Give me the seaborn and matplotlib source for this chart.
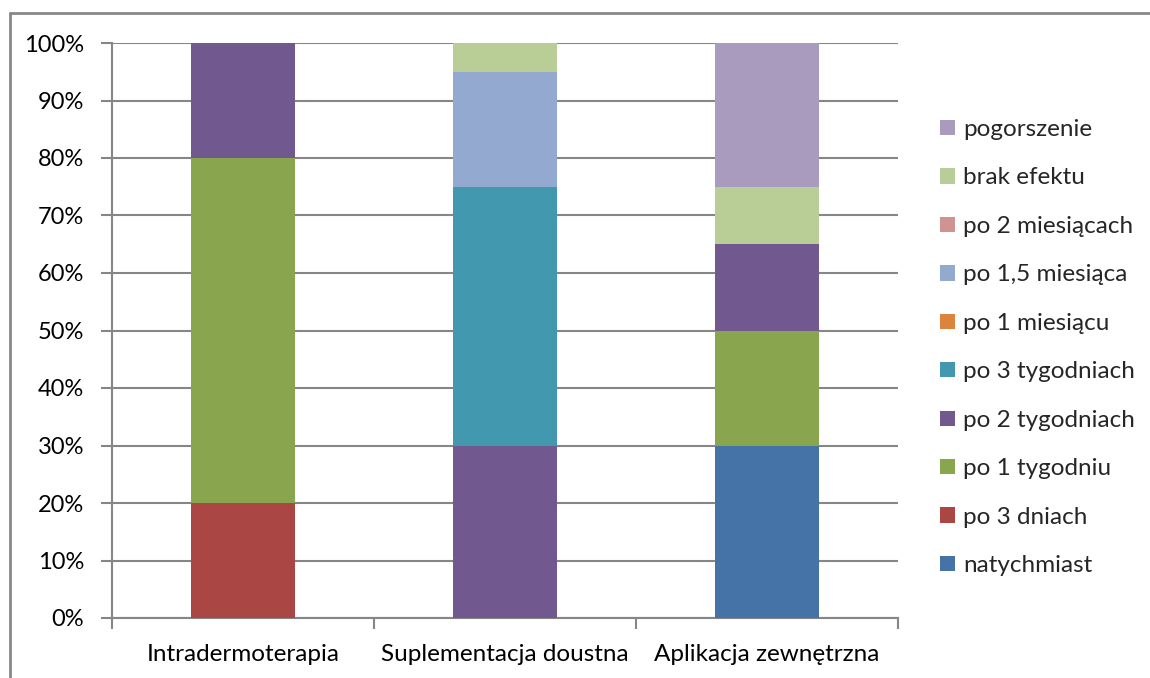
import numpy as np
import pandas as pd
import matplotlib
matplotlib.use("Agg")
import matplotlib.pyplot as plt
from matplotlib.lines import Line2D
from matplotlib.patches import Patch
from matplotlib.ticker import FixedLocator, PercentFormatter
import seaborn as sns

# Treatment methods (x categories)
methods = ["Intradermoterapia", "Suplementacja doustna", "Aplikacja zewnętrzna"]

# Response categories, bottom of the stack first
responses = ["natychmiast", "po 3 dniach", "po 1 tygodniu", "po 2 tygodniach",
             "po 3 tygodniach", "po 1 miesiącu", "po 1,5 miesiąca",
             "po 2 miesiącach", "brak efektu", "pogorszenie"]

# Percentage share per response, in the order of `methods`
natychmiast = [0, 0, 30]
po_3_dniach = [20, 0, 0]
po_1_tygodniu = [60, 0, 20]
po_2_tygodniach = [20, 30, 15]
po_3_tygodniach = [0, 45, 0]
po_1_miesiacu = [0, 0, 0]
po_1_5_miesiaca = [0, 20, 0]
po_2_miesiacach = [0, 0, 0]
brak_efektu = [0, 5, 10]
pogorszenie = [0, 0, 25]

series = [natychmiast, po_3_dniach, po_1_tygodniu, po_2_tygodniach,
          po_3_tygodniach, po_1_miesiacu, po_1_5_miesiaca,
          po_2_miesiacach, brak_efektu, pogorszenie]

colors = ["#4572A7", "#AA4643", "#89A54E", "#71588F", "#4198AF",
          "#DB843D", "#93A9CF", "#D19392", "#B9CD96", "#A99BBD"]

sns.set_theme(style="white")
plt.rcParams["font.family"] = ["Lato", "DejaVu Sans"]
FS = 17.5

fig = plt.figure(figsize=(11.5, 6.78), dpi=100)
ax = fig.add_axes([112 / 1150, 1 - 618 / 678, (898 - 112) / 1150, (618 - 43) / 678])

grid_color = "#868686"

# Stacked bars: draw cumulative totals from the top series down so each
# lower segment covers the one above it.
cum = np.cumsum(np.array(series, dtype=float), axis=0)
df_base = pd.DataFrame({"method": methods})
for i in range(len(series) - 1, -1, -1):
    d = df_base.copy()
    d["value"] = cum[i] / 100.0
    sns.barplot(data=d, x="method", y="value", order=methods, color=colors[i],
                width=0.4, saturation=1, ax=ax, zorder=3, linewidth=0)

ax.set_xlim(-0.5, 2.5)
ax.set_ylim(0, 1)
ax.set_xlabel("")
ax.set_ylabel("")

ax.yaxis.set_major_locator(FixedLocator(np.linspace(0, 1, 11)))
ax.yaxis.set_major_formatter(PercentFormatter(1.0, decimals=0))
ax.yaxis.grid(True, color=grid_color, linewidth=1.5, zorder=0)
ax.set_axisbelow(True)

for side in ["top", "right"]:
    ax.spines[side].set_visible(False)
for side in ["left", "bottom"]:
    ax.spines[side].set_color(grid_color)
    ax.spines[side].set_linewidth(1.5)

ax.tick_params(axis="y", which="major", left=True, length=8, width=1.5,
               color=grid_color, labelsize=FS - 0.5, labelcolor="black", pad=12)
ax.tick_params(axis="x", which="major", length=0, labelsize=FS,
               labelcolor="black", pad=19)
ax.xaxis.set_minor_locator(FixedLocator([-0.5, 0.5, 1.5, 2.5]))
ax.tick_params(axis="x", which="minor", bottom=True, length=8, width=1.5,
               color=grid_color)

# Legend, top entry is the last series
handles = [Patch(facecolor=colors[i], edgecolor="none", label=responses[i])
           for i in range(len(responses) - 1, -1, -1)]
fig.legend(handles=handles, loc="upper left",
           bbox_to_anchor=(940 / 1150, 1 - 119 / 678), frameon=False,
           fontsize=FS, handlelength=0.6, handleheight=0.6,
           handletextpad=0.35, labelspacing=1.13, borderaxespad=0,
           borderpad=0)

# Chart area border (top and left edges)
fig.add_artist(Line2D([10 / 1150, 1.0], [1 - 13 / 678, 1 - 13 / 678],
                      transform=fig.transFigure, color="#888888", linewidth=2))
fig.add_artist(Line2D([10 / 1150, 10 / 1150], [0.0, 1 - 13 / 678],
                      transform=fig.transFigure, color="#888888", linewidth=2))

fig.savefig("out.png", dpi=100, facecolor="white")
